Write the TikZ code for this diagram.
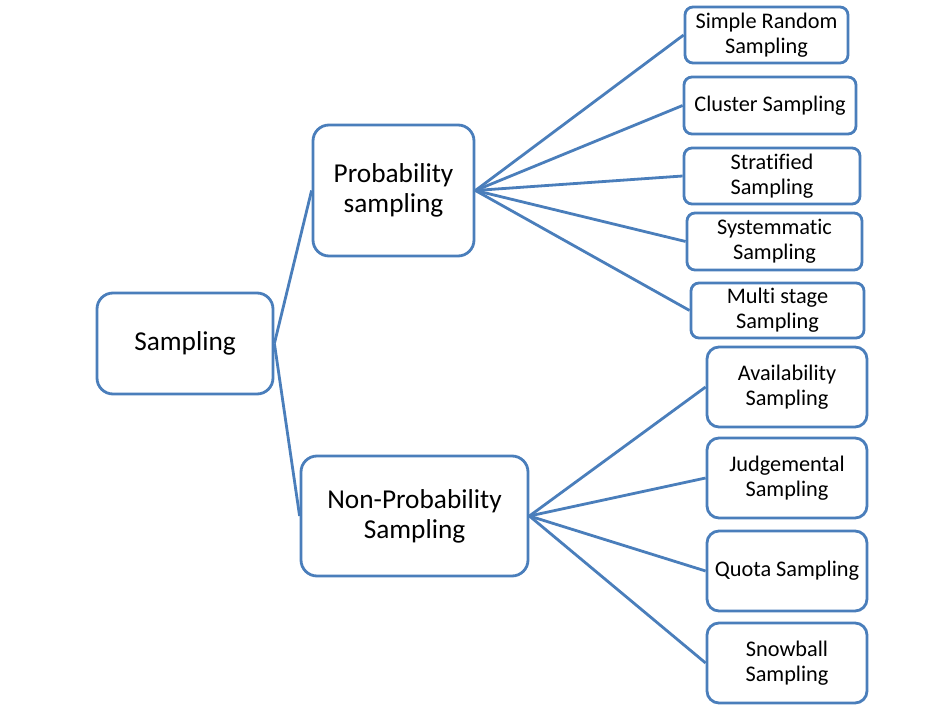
\documentclass[tikz,border=0pt]{standalone}
\usepackage{fontspec}
\setmainfont{Carlito}[Ligatures={NoCommon}]
\newcommand{\nl}{\kern0pt{}}
\definecolor{obl}{HTML}{4A7EBB}
\begin{document}
\begin{tikzpicture}[x=1pt,y=-1pt,
  box/.style={draw=obl, line width=2.8pt, fill=white, inner sep=0pt, align=center, text=black},
  big/.style={box, font=\fontsize{27.3}{30}\selectfont, rounded corners=16pt},
  small/.style={box, font=\fontsize{22.3}{25}\selectfont, rounded corners=8pt},
  mid/.style={box, font=\fontsize{22.3}{25}\selectfont, rounded corners=12pt},
  link/.style={draw=obl, line width=2.8pt}]
\useasboundingbox (0,0) rectangle (946,708);
\node[big, minimum width=176pt, minimum height=101pt] (samp) at (185,343.5) {Sampling};
\node[big, minimum width=161pt, minimum height=131pt] (prob) at (393.5,190.5) {Probability\\sampling};
\node[big, minimum width=227pt, minimum height=120pt] (nonp) at (414.5,516) {Non-Probability\\Sampling};
\node[small, minimum width=163pt, minimum height=56pt] (sr) at (766.5,35) {Simple Random\\Sampling};
\node[small, minimum width=172pt, minimum height=57pt] (cl) at (770,105.5) {Cluster Sampling};
\node[small, minimum width=176pt, minimum height=56pt] (st) at (772,176) {Strat\nl i\nl f\nl ied\\Sampling};
\node[small, minimum width=175pt, minimum height=57pt] (sy) at (774.5,241.5) {Systemmat\nl ic\\Sampling};
\node[small, minimum width=173pt, minimum height=55pt] (ms) at (777.5,310.5) {Mult\nl i stage\\Sampling};
\node[mid, minimum width=160pt, minimum height=80pt] (av) at (787,387) {Availability\\Sampling};
\node[mid, minimum width=160pt, minimum height=80pt] (ju) at (787,478) {Judgemental\\Sampling};
\node[mid, minimum width=160pt, minimum height=80pt] (qu) at (787,571) {Quota Sampling};
\node[mid, minimum width=160pt, minimum height=80pt] (sn) at (787,663) {Snowball\\Sampling};
\foreach \t in {prob,nonp} \path[link] (samp.east) -- (\t.west);
\foreach \t in {sr,cl,st,sy,ms} \path[link] (prob.east) -- (\t.west);
\foreach \t in {av,ju,qu,sn} \path[link] (nonp.east) -- (\t.west);
\end{tikzpicture}
\end{document}
